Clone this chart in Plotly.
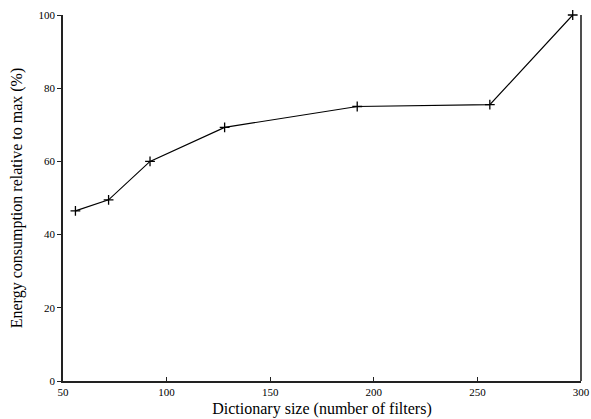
import plotly.graph_objects as go

# Dictionary size (number of filters) vs. relative energy consumption
dict_size = [56, 72, 92, 128, 192, 256, 296]
energy_pct = [46.5, 49.5, 60.0, 69.3, 75.0, 75.5, 100.0]

x_ticks = [50, 100, 150, 200, 250, 300]
y_ticks = [0, 20, 40, 60, 80, 100]

serif = "Liberation Serif, Times New Roman, serif"

fig = go.Figure()
fig.add_trace(go.Scatter(
    x=dict_size, y=energy_pct,
    mode="lines+markers",
    line=dict(color="black", width=1.2),
    marker=dict(symbol="cross-thin", size=7, line=dict(color="black", width=1.3)),
    showlegend=False,
    cliponaxis=False,
))

fig.update_layout(
    width=591, height=419,
    margin=dict(l=63, r=10, t=15, b=38, autoexpand=False),
    plot_bgcolor="white", paper_bgcolor="white",
    font=dict(family=serif, color="black"),
    xaxis=dict(
        range=[50, 300], tickvals=x_ticks, ticktext=[str(v) for v in x_ticks],
        showgrid=False, zeroline=False, automargin=False,
        showline=True, linecolor="#222", linewidth=1.5,
        ticks="inside", ticklen=4, tickwidth=1, tickcolor="#222",
        tickfont=dict(size=11, family=serif),
        title=dict(text="Dictionary size (number of filters)", font=dict(size=16, family=serif), standoff=6),
    ),
    yaxis=dict(
        range=[0, 100], tickvals=y_ticks, ticktext=[str(v) for v in y_ticks],
        showgrid=False, zeroline=False, automargin=False,
        showline=True, linecolor="#222", linewidth=1.5,
        ticks="outside", ticklen=4, tickwidth=1, tickcolor="#222",
        tickfont=dict(size=11, family=serif),
        title=dict(text="Energy consumption relative to max (%)", font=dict(size=16, family=serif), standoff=12),
    ),
)

# right-hand frame line (no top border)
fig.add_shape(type="line", xref="paper", yref="paper", x0=1, x1=1, y0=0, y1=1,
              layer="above", line=dict(color="#222", width=1.6))

fig.write_html("out.html")
